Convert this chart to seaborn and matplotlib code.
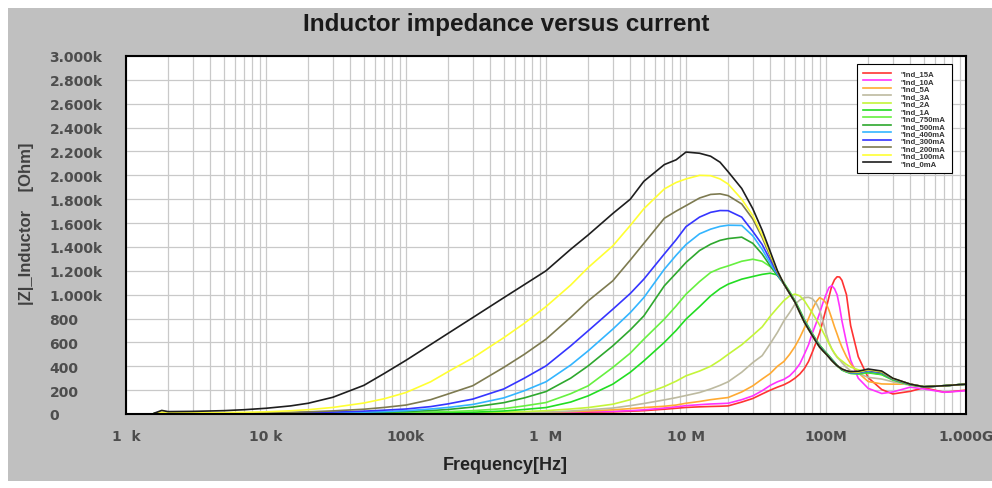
import numpy as np
import pandas as pd
import seaborn as sns
import matplotlib.pyplot as plt
from matplotlib.patches import Rectangle
from matplotlib.ticker import LogLocator, NullFormatter

# Frequency grid (Hz) shared by all traces
freq_hz = [1.6e3, 1.8e3, 2e3, 3e3, 5e3, 7e3, 1e4, 1.5e4, 2e4, 3e4,
           5e4, 7e4, 1e5, 1.5e5, 2e5, 3e5, 5e5, 7e5, 1e6, 1.5e6,
           2e6, 3e6, 4e6, 5e6, 7e6, 8.5e6, 1e7, 1.25e7, 1.5e7, 1.75e7,
           2e7, 2.5e7, 3e7, 3.5e7, 4e7, 4.5e7, 5e7, 5.5e7, 6e7, 6.5e7,
           7e7, 7.5e7, 8e7, 8.5e7, 9e7, 9.5e7, 1e8, 1.05e8, 1.1e8, 1.15e8,
           1.2e8, 1.25e8, 1.3e8, 1.4e8, 1.5e8, 1.7e8, 2e8, 2.5e8, 3e8, 4e8,
           5e8, 7e8, 1e9]

# |Z| in Ohm, one list per bias current
z_15a = [3, 3, 3, 3, 3, 3, 3, 3, 3, 3,
         3, 3, 3, 3, 4, 4, 6, 8, 10, 12,
         15, 18, 23, 28, 40, 48, 55, 60, 63, 65,
         68, 100, 130, 168, 200, 225, 245, 270, 300, 335,
         380, 440, 520, 600, 680, 780, 880, 980, 1075, 1125,
         1150, 1148, 1120, 1000, 740, 480, 305, 205, 168, 190,
         220, 182, 200]
z_10a = [3, 3, 3, 3, 3, 3, 3, 3, 3, 3,
         3, 3, 4, 4, 4, 5, 7, 9, 12, 16,
         20, 22, 28, 35, 50, 60, 70, 78, 84, 87,
         90, 120, 152, 195, 240, 270, 290, 320, 365, 420,
         500, 580, 680, 760, 845, 930, 1000, 1060, 1075, 1050,
         1000, 900, 780, 600, 450, 300, 215, 172, 185, 225,
         210, 182, 195]
z_5a = [3, 3, 3, 3, 3, 3, 3, 3, 3, 3,
        4, 4, 4, 5, 5, 6, 8, 10, 15, 20,
        25, 35, 45, 54, 65, 75, 90, 105, 120, 130,
        138, 185, 236, 293, 340, 400, 440, 500, 565, 640,
        720, 800, 880, 940, 975, 960, 930, 870, 800, 730,
        670, 610, 560, 480, 420, 345, 272, 252, 250, 250,
        230, 237, 250]
z_3a = [3, 4, 4, 3, 3, 3, 3, 4, 4, 4,
        4, 5, 5, 6, 6, 8, 10, 12, 15, 25,
        35, 50, 70, 88, 118, 137, 155, 180, 210, 240,
        270, 350, 431, 489, 590, 684, 780, 850, 920, 955,
        975, 978, 965, 930, 870, 780, 680, 600, 545, 505,
        475, 455, 430, 390, 363, 340, 307, 293, 270, 240,
        228, 237, 250]
z_2a = [3, 4, 4, 4, 4, 4, 4, 4, 4, 4,
        5, 5, 6, 7, 8, 10, 15, 20, 28, 42,
        54, 82, 120, 166, 230, 275, 320, 360, 400, 450,
        500, 580, 660, 730, 820, 890, 950, 990, 1005, 990,
        950, 895, 845, 795, 745, 690, 640, 590, 545, 510,
        480, 460, 445, 415, 394, 370, 352, 330, 290, 245,
        228, 237, 250]
z_1a = [4, 5, 5, 4, 4, 4, 4, 5, 5, 5,
        6, 7, 8, 10, 12, 15, 25, 38, 54, 100,
        152, 250, 350, 445, 600, 700, 795, 900, 990, 1050,
        1088, 1130, 1152, 1170, 1180, 1165, 1100, 1025, 950, 870,
        790, 730, 672, 622, 577, 545, 515, 488, 460, 434,
        405, 386, 368, 352, 340, 335, 345, 330, 285, 244,
        228, 237, 250]
z_750ma = [4, 5, 5, 4, 4, 5, 5, 5, 6, 7,
           8, 10, 12, 16, 20, 28, 45, 68, 96, 170,
           236, 390, 510, 627, 795, 905, 1004, 1110, 1186, 1220,
           1241, 1280, 1297, 1280, 1235, 1170, 1095, 1020, 945, 865,
           785, 725, 668, 618, 573, 540, 512, 485, 457, 432,
           405, 388, 370, 354, 342, 338, 350, 335, 288, 245,
           228, 237, 250]
z_500ma = [4, 6, 6, 5, 5, 5, 6, 6, 7, 9,
           11, 15, 20, 29, 38, 58, 95, 135, 188, 300,
           403, 571, 705, 822, 1074, 1180, 1270, 1370, 1423, 1455,
           1470, 1482, 1430, 1340, 1240, 1160, 1090, 1015, 942, 860,
           780, 720, 664, 615, 570, 538, 510, 482, 455, 430,
           405, 390, 372, 356, 344, 342, 355, 340, 290, 246,
           228, 237, 250]
z_400ma = [5, 7, 7, 6, 5, 6, 7, 8, 9, 12,
           15, 20, 28, 42, 55, 80, 135, 195, 270, 410,
           529, 711, 850, 976, 1213, 1330, 1420, 1510, 1549, 1572,
           1582, 1580, 1493, 1380, 1260, 1170, 1090, 1012, 940, 855,
           778, 718, 662, 612, 567, 535, 507, 480, 452, 428,
           405, 390, 373, 358, 346, 345, 360, 345, 293, 248,
           228, 237, 250]
z_300ma = [5, 8, 8, 7, 6, 7, 8, 10, 12, 16,
           24, 32, 42, 62, 85, 125, 210, 300, 403, 570,
           697, 878, 1010, 1130, 1341, 1460, 1570, 1650, 1690, 1705,
           1704, 1650, 1530, 1420, 1290, 1180, 1090, 1010, 938, 852,
           775, 715, 660, 610, 565, 533, 505, 477, 450, 427,
           405, 390, 375, 360, 348, 348, 365, 348, 295, 250,
           228, 237, 250]
z_200ma = [5, 10, 10, 8, 8, 9, 10, 14, 18, 26,
           40, 55, 75, 120, 168, 237, 391, 500, 627, 810,
           948, 1116, 1290, 1430, 1640, 1700, 1746, 1810, 1840, 1845,
           1830, 1760, 1634, 1480, 1320, 1190, 1090, 1010, 938, 850,
           770, 710, 656, 605, 561, 530, 503, 475, 447, 425,
           405, 390, 375, 360, 350, 350, 368, 350, 296, 250,
           228, 237, 250]
z_100ma = [5, 15, 14, 12, 12, 14, 18, 27, 36, 55,
           92, 128, 180, 270, 355, 470, 640, 760, 900, 1080,
           1227, 1409, 1580, 1720, 1886, 1940, 1970, 2000, 1997, 1970,
           1927, 1800, 1662, 1500, 1340, 1195, 1090, 1010, 938, 850,
           770, 710, 656, 605, 561, 530, 503, 475, 447, 425,
           405, 390, 377, 360, 352, 352, 372, 355, 298, 250,
           228, 237, 250]
z_0ma = [8, 30, 20, 22, 28, 36, 48, 68, 90, 140,
         240, 340, 450, 582, 676, 808, 975, 1084, 1200, 1380,
         1500, 1680, 1800, 1950, 2090, 2130, 2195, 2185, 2160, 2110,
         2030, 1890, 1720, 1540, 1360, 1200, 1090, 1010, 938, 850,
         770, 710, 656, 605, 561, 530, 503, 475, 447, 425,
         405, 390, 377, 362, 355, 358, 377, 360, 300, 250,
         228, 237, 250]

trace_names = ['"Ind_15A', '"Ind_10A', '"Ind_5A', '"Ind_3A', '"Ind_2A', '"Ind_1A',
               '"Ind_750mA', '"Ind_500mA', '"Ind_400mA', '"Ind_300mA',
               '"Ind_200mA', '"Ind_100mA', '"Ind_0mA']
trace_values = [z_15a, z_10a, z_5a, z_3a, z_2a, z_1a, z_750ma, z_500ma,
                z_400ma, z_300ma, z_200ma, z_100ma, z_0ma]
trace_colors = ['#ff3333', '#ff33ff', '#ffaa33', '#bdbaa0', '#c4f53a', '#22dd22',
                '#66f040', '#2ea82e', '#33b5ff', '#3535ff', '#7d7a50', '#ffff33', '#1e1e1e']

y_ticks = [0, 200, 400, 600, 800, 1000, 1200, 1400, 1600, 1800, 2000,
           2200, 2400, 2600, 2800, 3000]
y_tick_labels = ['0', '200', '400', '600', '800', '1.000k', '1.200k', '1.400k',
                 '1.600k', '1.800k', '2.000k', '2.200k', '2.400k', '2.600k',
                 '2.800k', '3.000k']
x_ticks = [1e3, 1e4, 1e5, 1e6, 1e7, 1e8, 1e9]
x_tick_labels = ['1  k', '10 k', '100k', '1  M', '10 M', '100M', '1.000G']

# long-form table for seaborn
rows = []
for name, vals in zip(trace_names, trace_values):
    for f, z in zip(freq_hz, vals):
        rows.append((name, f, z))
df = pd.DataFrame(rows, columns=['trace', 'freq', 'z'])

W, H = 992, 489
fig = plt.figure(figsize=(W / 100, H / 100), dpi=100, facecolor='white')
fig.patches.append(Rectangle((8 / W, 1 - 482 / H), (W - 8) / W, (482 - 9) / H,
                             transform=fig.transFigure, facecolor='#c0c0c0',
                             edgecolor='none', zorder=-10))
ax = fig.add_axes([126 / W, 1 - 415 / H, 840 / W, 358 / H])
ax.set_facecolor('white')

sns.lineplot(data=df, x='freq', y='z', hue='trace', hue_order=trace_names,
             palette=dict(zip(trace_names, trace_colors)), estimator=None,
             sort=False, linewidth=1.2, ax=ax)

ax.set_xscale('log')
ax.set_xlim(1e3, 1e9)
ax.set_ylim(0, 3000)
ax.set_xticks(x_ticks)
ax.set_xticklabels(x_tick_labels)
ax.xaxis.set_minor_locator(LogLocator(base=10, subs=range(2, 10), numticks=30))
ax.xaxis.set_minor_formatter(NullFormatter())
ax.set_yticks(y_ticks)
ax.set_yticklabels(y_tick_labels)
ax.grid(True, which='both', color='#c9c9c9', linewidth=0.9)
ax.set_axisbelow(True)
ax.tick_params(which='both', length=0)
ax.tick_params(axis='y', pad=55, labelcolor='#4d4d4d')
ax.tick_params(axis='x', pad=11, labelcolor='#4d4d4d')
for lab in ax.get_yticklabels() + ax.get_xticklabels():
    lab.set_fontfamily('DejaVu Sans')
    lab.set_fontweight('bold')
    lab.set_fontsize(10)
for lab in ax.get_yticklabels():
    lab.set_horizontalalignment('left')
for sp in ax.spines.values():
    sp.set_color('black')
    sp.set_linewidth(1.5)
ax.set_xlabel('')
ax.set_ylabel('')

handles, labels = ax.get_legend_handles_labels()
leg = ax.legend(handles, labels, loc='upper right', bbox_to_anchor=(0.983, 0.978),
                borderaxespad=0, handlelength=3.6, handletextpad=1.2,
                borderpad=0.8, labelspacing=0.0, fancybox=False,
                framealpha=1, edgecolor='black',
                prop={'family': 'Liberation Sans', 'weight': 'bold', 'size': 5.6})
leg.get_frame().set_linewidth(0.8)
for t in leg.get_texts():
    t.set_color('#333333')

fig.text(506 / W, 1 - 25 / H, 'Inductor impedance versus current',
         ha='center', va='center', fontsize=17.5, fontweight='bold',
         family='Liberation Sans', color='#1a1a1a')
fig.text(505 / W, 1 - 466 / H, 'Frequency[Hz]', ha='center', va='center',
         fontsize=13, fontweight='bold', family='Liberation Sans', color='#222222')
fig.text(27 / W, 1 - 224 / H, '|Z|_Inductor    [Ohm]', ha='center', va='center',
         rotation=90, fontsize=12, fontweight='bold', family='Liberation Sans',
         color='#404040')

fig.savefig('out.png', dpi=100, facecolor=fig.get_facecolor())
